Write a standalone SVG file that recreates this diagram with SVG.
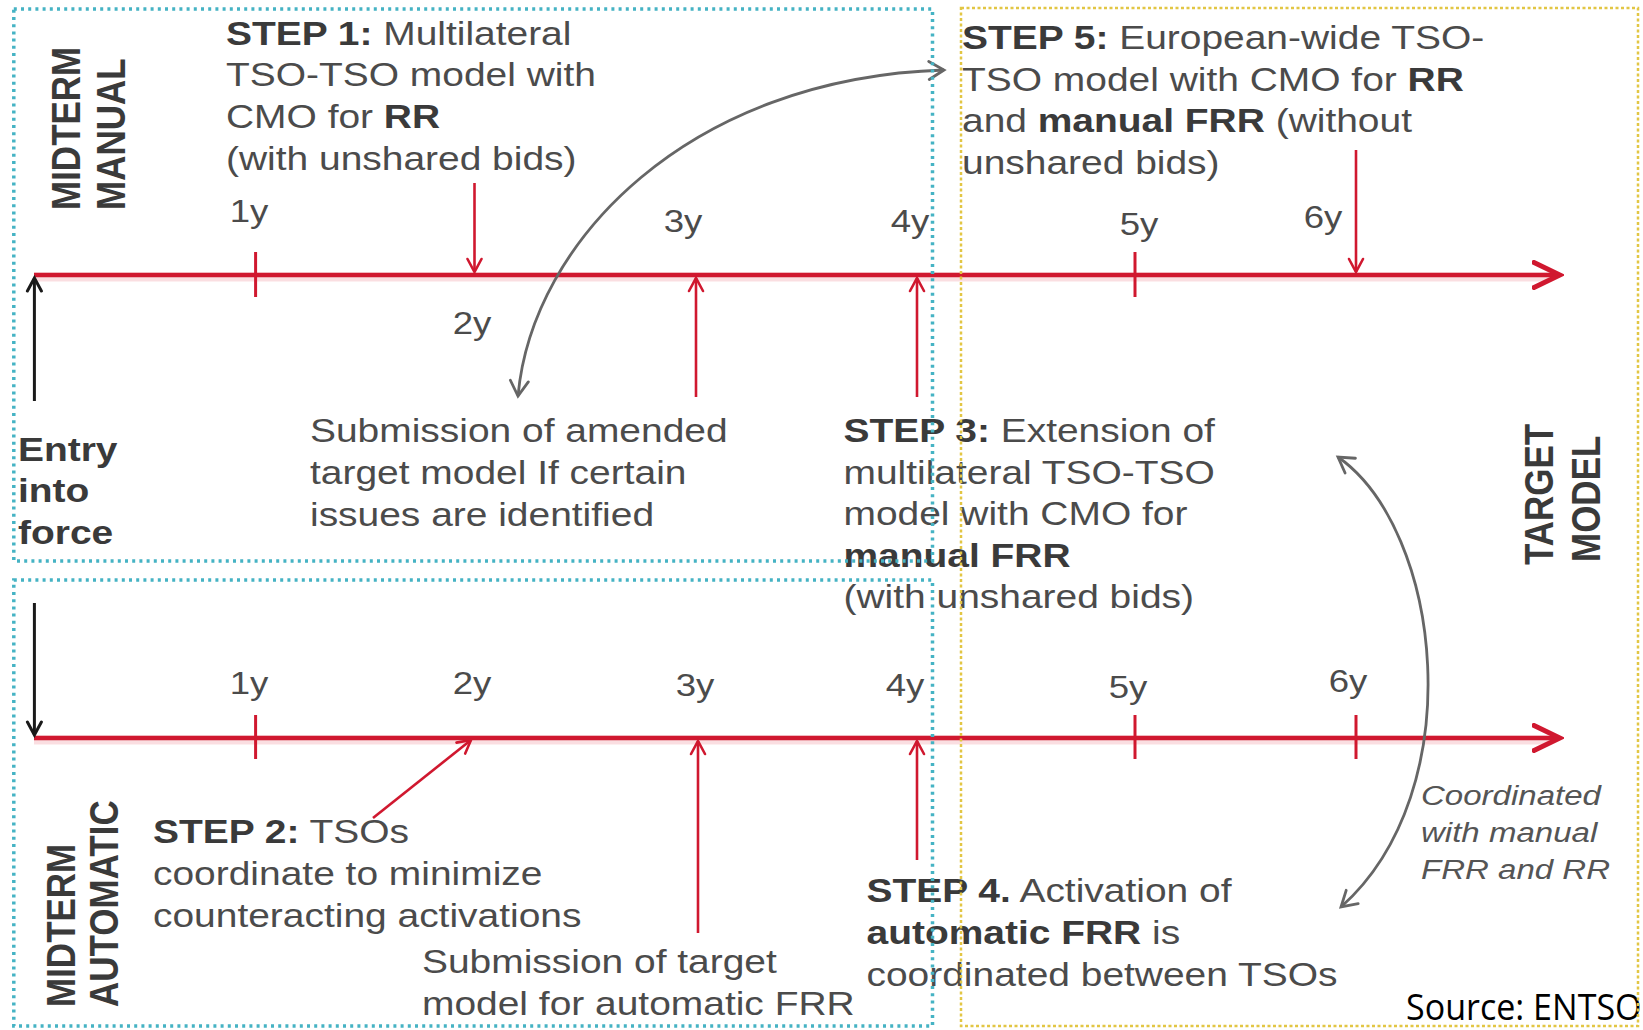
<svg xmlns="http://www.w3.org/2000/svg" width="1643" height="1030" viewBox="0 0 1643 1030">
  <defs>
    <style>
      .t { font-family: "Liberation Sans", Arial, Helvetica, sans-serif; font-size: 33px; fill: #4b4b4b; }
      .b { font-weight: bold; fill: #3a3a3a; }
      .yr { font-family: "Liberation Sans", Arial, Helvetica, sans-serif; font-size: 31px; fill: #4b4b4b; text-anchor: middle; }
      .lab { font-family: "Liberation Sans", Arial, Helvetica, sans-serif; font-size: 35px; font-weight: bold; fill: #3a3a3a; }
      .it { font-family: "Liberation Sans", Arial, Helvetica, sans-serif; font-size: 28px; font-style: italic; fill: #555555; }
      .src { font-family: "Open Sans", "Noto Sans", sans-serif; font-size: 37px; fill: #000000; }
      .glow { stroke: #f0a0a8; stroke-width: 9; opacity: 0.35; fill: none; }
      .tl { stroke: #d0182f; stroke-width: 4.5; fill: none; }
      .red { stroke: #d0182f; stroke-width: 2.6; fill: none; }
      .tick { stroke: #d0182f; stroke-width: 3; }
      .blk { stroke: #1a1a1a; stroke-width: 3; fill: none; }
      .gry { stroke: #666666; stroke-width: 2.8; fill: none; }
      .box-b { fill: none; stroke: #45b3c4; stroke-width: 3.5; stroke-dasharray: 3 4.2; }
      .box-y { fill: none; stroke: #e2c644; stroke-width: 2.5; stroke-dasharray: 3 2.5; }
    </style>
    <marker id="head-big" markerUnits="userSpaceOnUse" viewBox="0 0 32 30" markerWidth="32" markerHeight="30" refX="25" refY="15" orient="auto">
      <path d="M2,2.5 L28,15 L2,27.5" fill="none" stroke="#d0182f" stroke-width="5" stroke-linecap="round" stroke-linejoin="miter"/>
    </marker>
    <marker id="head-red" markerUnits="userSpaceOnUse" viewBox="0 0 18 18" markerWidth="18" markerHeight="18" refX="15" refY="9" orient="auto">
      <path d="M2,2 L15,9 L2,16" fill="none" stroke="#d0182f" stroke-width="2.6" stroke-linecap="round"/>
    </marker>
    <marker id="head-black" markerUnits="userSpaceOnUse" viewBox="0 0 18 18" markerWidth="18" markerHeight="18" refX="15" refY="9" orient="auto">
      <path d="M2,2 L15,9 L2,16" fill="none" stroke="#1a1a1a" stroke-width="3" stroke-linecap="round"/>
    </marker>
    <marker id="head-gray" markerUnits="userSpaceOnUse" viewBox="0 0 20 22" markerWidth="20" markerHeight="22" refX="17" refY="11" orient="auto-start-reverse">
      <path d="M2,2 L17,11 L2,20" fill="none" stroke="#666666" stroke-width="2.8" stroke-linecap="round"/>
    </marker>
  </defs>

  <rect width="1643" height="1030" fill="#ffffff"/>

  <!-- text nodes -->
  <g id="step1">
    <text class="t" transform="translate(226,44.5) scale(1.18,1)">
      <tspan x="0" y="0"><tspan class="b">STEP 1:</tspan> Multilateral</tspan>
      <tspan x="0" dy="41.8">TSO-TSO model with</tspan>
      <tspan x="0" dy="41.8">CMO for <tspan class="b">RR</tspan></tspan>
      <tspan x="0" dy="41.8">(with unshared bids)</tspan>
    </text>
  </g>

  <g id="step5">
    <text class="t" transform="translate(962,49) scale(1.18,1)">
      <tspan x="0" y="0"><tspan class="b">STEP 5:</tspan> European-wide TSO-</tspan>
      <tspan x="0" dy="41.7">TSO model with CMO for <tspan class="b">RR</tspan></tspan>
      <tspan x="0" dy="41.7">and <tspan class="b">manual FRR</tspan> (without</tspan>
      <tspan x="0" dy="41.7">unshared bids)</tspan>
    </text>
  </g>

  <g id="amended">
    <text class="t" transform="translate(310,442) scale(1.18,1)">
      <tspan x="0" y="0">Submission of amended</tspan>
      <tspan x="0" dy="41.8">target model If certain</tspan>
      <tspan x="0" dy="41.8">issues are identified</tspan>
    </text>
  </g>

  <g id="step3">
    <text class="t" transform="translate(843.5,442) scale(1.18,1)">
      <tspan x="0" y="0"><tspan class="b">STEP 3:</tspan> Extension of</tspan>
      <tspan x="0" dy="41.6">multilateral TSO-TSO</tspan>
      <tspan x="0" dy="41.6">model with CMO for</tspan>
      <tspan x="0" dy="41.6" class="b">manual FRR</tspan>
      <tspan x="0" dy="41.6">(with unshared bids)</tspan>
    </text>
  </g>

  <g id="entry">
    <text class="t b" transform="translate(18,461) scale(1.18,1)">
      <tspan x="0" y="0">Entry</tspan>
      <tspan x="0" dy="41.5">into</tspan>
      <tspan x="0" dy="41.5">force</tspan>
    </text>
  </g>

  <g id="step2">
    <text class="t" transform="translate(153,843) scale(1.18,1)">
      <tspan x="0" y="0"><tspan class="b">STEP 2:</tspan> TSOs</tspan>
      <tspan x="0" dy="42">coordinate to minimize</tspan>
      <tspan x="0" dy="42">counteracting activations</tspan>
    </text>
  </g>

  <g id="submission">
    <text class="t" transform="translate(422,973) scale(1.18,1)">
      <tspan x="0" y="0">Submission of target</tspan>
      <tspan x="0" dy="42">model for automatic FRR</tspan>
    </text>
  </g>

  <g id="step4">
    <text class="t" transform="translate(866.5,902) scale(1.18,1)">
      <tspan x="0" y="0"><tspan class="b">STEP 4.</tspan> Activation of</tspan>
      <tspan x="0" dy="42"><tspan class="b">automatic FRR</tspan> is</tspan>
      <tspan x="0" dy="42">coordinated between TSOs</tspan>
    </text>
  </g>

  <g id="coordinated">
    <text class="it" transform="translate(1421,805) scale(1.18,1)">
      <tspan x="0" y="0">Coordinated</tspan>
      <tspan x="0" dy="37">with manual</tspan>
      <tspan x="0" dy="37">FRR and RR</tspan>
    </text>
  </g>

  <g id="label-manual">
    <text class="lab" transform="translate(80,210) scale(1.15,1) rotate(-90)">MIDTERM</text>
    <text class="lab" transform="translate(125,210) scale(1.15,1) rotate(-90)">MANUAL</text>
  </g>

  <g id="label-automatic">
    <text class="lab" transform="translate(75,1007) scale(1.15,1) rotate(-90)">MIDTERM</text>
    <text class="lab" transform="translate(118,1007) scale(1.15,1) rotate(-90)">AUTOMATIC</text>
  </g>

  <g id="label-target">
    <text class="lab" transform="translate(1553,565) scale(1.15,1) rotate(-90)">TARGET</text>
    <text class="lab" transform="translate(1600,562) scale(1.15,1) rotate(-90)">MODEL</text>
  </g>

  <g id="years-top">
    <text class="yr" transform="translate(249,222) scale(1.18,1)">1y</text>
    <text class="yr" transform="translate(472,334) scale(1.18,1)">2y</text>
    <text class="yr" transform="translate(683,232) scale(1.18,1)">3y</text>
    <text class="yr" transform="translate(910,232) scale(1.18,1)">4y</text>
    <text class="yr" transform="translate(1139,235) scale(1.18,1)">5y</text>
    <text class="yr" transform="translate(1323,228) scale(1.18,1)">6y</text>
  </g>

  <g id="years-bottom">
    <text class="yr" transform="translate(249,694) scale(1.18,1)">1y</text>
    <text class="yr" transform="translate(472,694) scale(1.18,1)">2y</text>
    <text class="yr" transform="translate(695,696) scale(1.18,1)">3y</text>
    <text class="yr" transform="translate(905,696) scale(1.18,1)">4y</text>
    <text class="yr" transform="translate(1128,698) scale(1.18,1)">5y</text>
    <text class="yr" transform="translate(1348,692) scale(1.18,1)">6y</text>
  </g>

  <g id="source">
    <text class="src" transform="translate(1406,1020) scale(0.92,1)">Source: ENTSO</text>
  </g>

  <!-- connectors: timelines, ticks and arrows -->
  <g id="connectors">
    <!-- manual timeline -->
    <line class="glow" x1="34" y1="277" x2="1552" y2="277"/>
    <line class="tl" x1="34" y1="275" x2="1557" y2="275" marker-end="url(#head-big)"/>
    <line class="tick" x1="255.6" y1="252" x2="255.6" y2="297"/>
    <line class="tick" x1="1135" y1="252" x2="1135" y2="297"/>
    <line class="red" x1="474.5" y1="183" x2="474.5" y2="272" marker-end="url(#head-red)"/>
    <line class="red" x1="1356" y1="150" x2="1356" y2="272" marker-end="url(#head-red)"/>
    <line class="red" x1="696" y1="397" x2="696" y2="278" marker-end="url(#head-red)"/>
    <line class="red" x1="917" y1="397" x2="917" y2="278" marker-end="url(#head-red)"/>
    <line class="blk" x1="34.4" y1="401" x2="34.4" y2="278" marker-end="url(#head-black)"/>

    <!-- automatic timeline -->
    <line class="glow" x1="34" y1="740" x2="1552" y2="740"/>
    <line class="tl" x1="34" y1="738" x2="1557" y2="738" marker-end="url(#head-big)"/>
    <line class="tick" x1="255.6" y1="715" x2="255.6" y2="759"/>
    <line class="tick" x1="1135" y1="715" x2="1135" y2="759"/>
    <line class="tick" x1="1356" y1="715" x2="1356" y2="759"/>
    <line class="red" x1="373" y1="818" x2="471" y2="740" marker-end="url(#head-red)"/>
    <line class="red" x1="698" y1="933" x2="698" y2="741" marker-end="url(#head-red)"/>
    <line class="red" x1="917" y1="860" x2="917" y2="741" marker-end="url(#head-red)"/>
    <line class="blk" x1="34.4" y1="603" x2="34.4" y2="735" marker-end="url(#head-black)"/>

    <!-- curved links -->
    <path class="gry" d="M518,396 C532,240 690,78 944,70" marker-start="url(#head-gray)" marker-end="url(#head-gray)"/>
    <path class="gry" d="M1338,457 C1442,530 1472,790 1341,907" marker-start="url(#head-gray)" marker-end="url(#head-gray)"/>
  </g>

  <!-- phase regions -->
  <g id="region-manual">
    <rect class="box-b" x="13.8" y="9" width="918.7" height="552"/>
  </g>
  <g id="region-automatic">
    <rect class="box-b" x="13.8" y="580" width="918.7" height="446"/>
  </g>
  <g id="region-target">
    <rect class="box-y" x="961" y="8" width="677" height="1018"/>
  </g>
</svg>
